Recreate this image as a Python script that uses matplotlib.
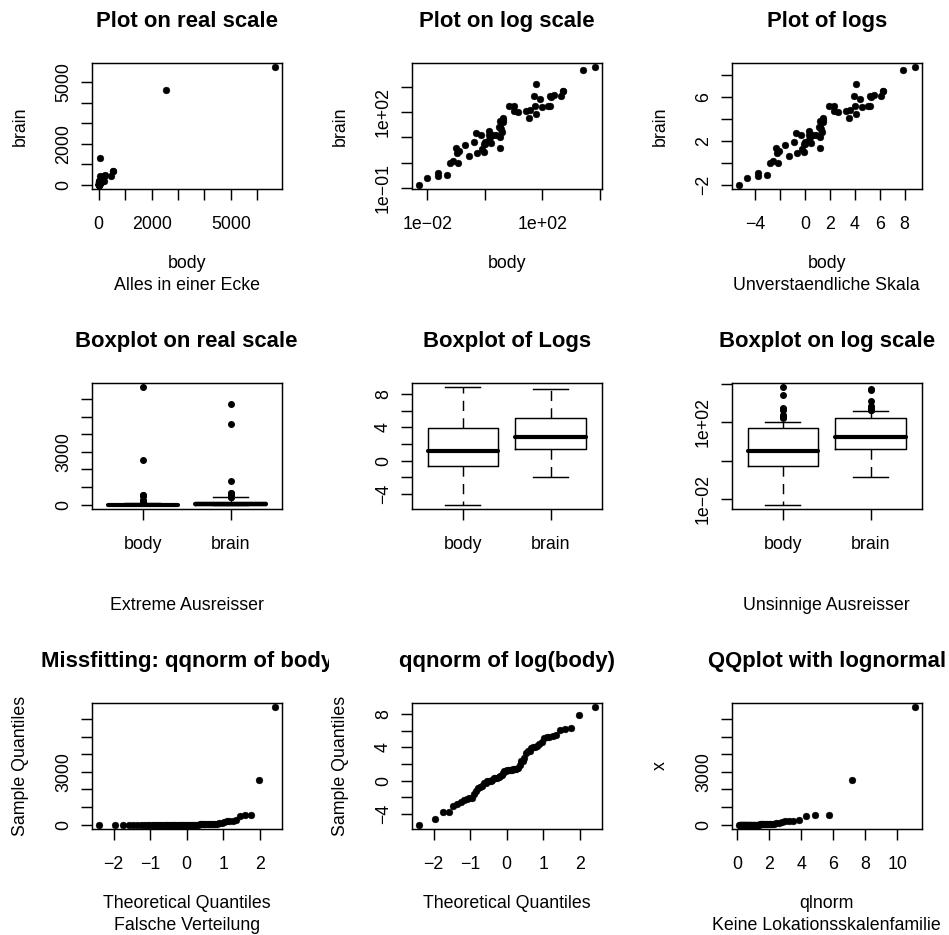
"""Mammals body/brain weights: nine ways to look at skewed data."""
from statistics import NormalDist

import matplotlib
matplotlib.use("Agg")
import matplotlib.pyplot as plt
import numpy as np
from matplotlib.transforms import Bbox

plt.rcParams["font.family"] = ["Liberation Sans", "DejaVu Sans"]

# MASS::mammals  (body in kg, brain in g)
body = [3.385, 0.480, 1.350, 465.000, 36.330, 27.660, 14.830, 1.040, 4.190,
        0.425, 0.101, 0.920, 1.000, 0.005, 0.060, 3.500, 2.000, 1.700,
        2547.000, 0.023, 187.100, 521.000, 0.785, 10.000, 3.300, 0.200,
        1.410, 529.000, 207.000, 85.000, 0.750, 62.000, 6654.000, 3.500,
        6.800, 35.000, 4.050, 0.120, 0.023, 0.010, 1.400, 250.000, 2.500,
        55.500, 100.000, 52.160, 10.550, 0.550, 60.000, 3.600, 4.288, 0.280,
        0.075, 0.122, 0.048, 192.000, 3.000, 160.000, 0.900, 1.620, 0.104,
        4.235]
brain = [44.50, 15.50, 8.10, 423.00, 119.50, 115.00, 98.20, 5.50, 58.00,
         6.40, 4.00, 5.70, 6.60, 0.14, 1.00, 10.80, 12.30, 6.30, 4603.00,
         0.30, 419.00, 655.00, 3.50, 115.00, 25.60, 5.00, 17.50, 680.00,
         406.00, 325.00, 12.30, 1320.00, 5712.00, 3.90, 179.00, 56.00, 17.00,
         1.00, 0.40, 0.25, 12.50, 490.00, 12.10, 175.00, 157.00, 440.00,
         179.50, 2.40, 81.00, 21.00, 39.20, 1.90, 1.20, 3.00, 0.33, 180.00,
         25.00, 169.00, 2.60, 11.40, 2.50, 50.40]
groups = ["body", "brain"]

titles = ["Plot on real scale", "Plot on log scale", "Plot of logs",
          "Boxplot on real scale", "Boxplot of Logs", "Boxplot on log scale",
          "Missfitting: qqnorm of body", "qqnorm of log(body)",
          "QQplot with lognormal"]
xlabels = ["body", "body", "body", "", "", "",
           "Theoretical Quantiles", "Theoretical Quantiles", "qlnorm"]
ylabels = ["brain", "brain", "brain", "", "", "",
           "Sample Quantiles", "Sample Quantiles", "x"]
subs = ["Alles in einer Ecke", "", "Unverstaendliche Skala",
        "Extreme Ausreisser", "", "Unsinnige Ausreisser",
        "Falsche Verteilung", "", "Keine Lokationsskalenfamilie"]

M = "\u2212"
thousands = [0, 1000, 2000, 3000, 4000, 5000, 6000]
lab_025 = ["0", "", "2000", "", "", "5000", ""]
lab_03 = ["0", "", "", "3000", "", "", ""]
evens_4_8 = [-4, -2, 0, 2, 4, 6, 8]
lab_4_8 = [M + "4", "", "0", "", "4", "", "8"]
dec_2_4 = [1e-2, 1e0, 1e2, 1e4]
lab_dec_2_4 = ["1e" + M + "02", "", "1e+02", ""]
dec_1_3 = [1e-1, 1e0, 1e1, 1e2, 1e3]
lab_dec_1_3 = ["1e" + M + "01", "", "", "1e+02", ""]
log_xt = [-4, -2, 0, 2, 4, 6, 8]
log_xl = [M + "4", "", "0", "2", "4", "6", "8"]
log_yt = [-2, 0, 2, 4, 6, 8]
log_yl = [M + "2", "", "2", "", "6", ""]
qq_t = [-2, -1, 0, 1, 2]
qq_l = [M + "2", M + "1", "0", "1", "2"]
ln_t = [0, 2, 4, 6, 8, 10]
ln_l = ["0", "2", "4", "6", "8", "10"]

W, H = 949, 935
BOX_L, BOX_T, STEP = 91.7, 62.7, 320
BOX_W, BOX_H = 190, 126.6
TXT, TTL = 12.8, 15.9
LW = 1.05


def fx(px):
    return px / W


def fy(py):
    return 1 - py / H


def padded(lo, hi, log=False):
    # R-style 4% axis extension
    if log:
        lo, hi = np.log10(lo), np.log10(hi)
    d = 0.04 * (hi - lo)
    lo, hi = lo - d, hi + d
    return (10 ** lo, 10 ** hi) if log else (lo, hi)


def fivenum_stats(v, label):
    v = np.sort(np.asarray(v, dtype=float))
    n = len(v)
    n4 = np.floor((n + 3) / 2) / 2
    d = np.array([1, n4, (n + 1) / 2, n + 1 - n4, n])
    q = 0.5 * (v[np.floor(d).astype(int) - 1] + v[np.ceil(d).astype(int) - 1])
    iqr = q[3] - q[1]
    inside = v[(v >= q[1] - 1.5 * iqr) & (v <= q[3] + 1.5 * iqr)]
    return dict(label=label, med=q[2], q1=q[1], q3=q[3],
                whislo=inside.min(), whishi=inside.max(),
                fliers=v[(v < inside.min()) | (v > inside.max())])


def draw_box(ax, data, log=False):
    stats = [fivenum_stats(d, g) for d, g in zip(data, groups)]
    ax.bxp(stats, positions=[1, 2], widths=0.8, capwidths=0.4,
           boxprops=dict(color="k", lw=LW),
           whiskerprops=dict(color="k", lw=LW, linestyle=(0, (7, 5))),
           capprops=dict(color="k", lw=LW),
           medianprops=dict(color="k", lw=3.0, solid_capstyle="round"),
           flierprops=dict(marker="o", mfc="k", mec="k", ms=4.0, ls="none"))
    # positions 1..2 padded by half a slot, then R's 4% extension
    ax.set_xlim(*padded(0.5, 2.5))
    allv = np.concatenate([np.asarray(d, float) for d in data])
    if log:
        ax.set_yscale("log")
    ax.set_ylim(*padded(allv.min(), allv.max(), log))
    ax.set_xticks([1, 2], groups)


def points(ax, x, y):
    ax.plot(x, y, "o", color="k", ms=4.9, mec="k", mew=0.3)


fig = plt.figure(figsize=(W / 100, H / 100), dpi=100)
axes = []
for i in range(3):
    for j in range(3):
        left, top = BOX_L + STEP * j, BOX_T + STEP * i
        ax = fig.add_axes([fx(left), fy(top + BOX_H), BOX_W / W, BOX_H / H])
        axes.append((ax, left, top, j))

body_a = np.array(body)
brain_a = np.array(brain)
n = len(body)
pp = (np.arange(1, n + 1) - 0.5) / n
qn = np.array([NormalDist().inv_cdf(p) for p in pp])
body_sorted = np.sort(body_a)

# row 1: scatter plots
ax = axes[0][0]
points(ax, body_a, brain_a)
ax.set_xlim(*padded(body_a.min(), body_a.max()))
ax.set_ylim(*padded(brain_a.min(), brain_a.max()))
ax.set_xticks(thousands, lab_025)
ax.set_yticks(thousands[:6], lab_025[:6])

ax = axes[1][0]
points(ax, body_a, brain_a)
ax.set_xscale("log")
ax.set_yscale("log")
ax.set_xlim(*padded(body_a.min(), body_a.max(), True))
ax.set_ylim(*padded(brain_a.min(), brain_a.max(), True))
ax.set_xticks(dec_2_4, lab_dec_2_4)
ax.set_yticks(dec_1_3, lab_dec_1_3)

ax = axes[2][0]
lb, lbr = np.log(body_a), np.log(brain_a)
points(ax, lb, lbr)
ax.set_xlim(*padded(lb.min(), lb.max()))
ax.set_ylim(*padded(lbr.min(), lbr.max()))
ax.set_xticks(log_xt, log_xl)
ax.set_yticks(log_yt, log_yl)

# row 2: boxplots
ax = axes[3][0]
draw_box(ax, [body, brain])
ax.set_yticks(thousands, lab_03)

ax = axes[4][0]
draw_box(ax, [np.log(body_a), np.log(brain_a)])
ax.set_yticks(evens_4_8, lab_4_8)

ax = axes[5][0]
draw_box(ax, [body, brain], log=True)
ax.set_yticks(dec_2_4, lab_dec_2_4)

# row 3: quantile plots
ax = axes[6][0]
points(ax, qn, body_sorted)
ax.set_xlim(*padded(qn.min(), qn.max()))
ax.set_ylim(*padded(body_sorted.min(), body_sorted.max()))
ax.set_xticks(qq_t, qq_l)
ax.set_yticks(thousands, lab_03)

ax = axes[7][0]
lbs = np.log(body_sorted)
points(ax, qn, lbs)
ax.set_xlim(*padded(qn.min(), qn.max()))
ax.set_ylim(*padded(lbs.min(), lbs.max()))
ax.set_xticks(qq_t, qq_l)
ax.set_yticks(evens_4_8, lab_4_8)

ax = axes[8][0]
qln = np.exp(qn)
points(ax, qln, body_sorted)
ax.set_xlim(*padded(qln.min(), qln.max()))
ax.set_ylim(*padded(body_sorted.min(), body_sorted.max()))
ax.set_xticks(ln_t, ln_l)
ax.set_yticks(thousands, lab_03)

for k, (ax, left, top, j) in enumerate(axes):
    ax.minorticks_off()
    for s in ax.spines.values():
        s.set_linewidth(LW)
    ax.tick_params(length=7.7, width=LW, labelsize=TXT, colors="k")
    ax.tick_params(axis="x", pad=11.5)
    ax.tick_params(axis="y", pad=6.4)
    for t in ax.get_yticklabels():
        t.set_rotation(90)
        t.set_va("center")
        t.set_ha("right")
    cx = left + BOX_W / 2
    bottom = top + BOX_H
    ttl = fig.text(fx(cx), fy(top - 36), titles[k], ha="center",
                   va="baseline", fontsize=TTL, fontweight="bold")
    # titles are clipped to their own figure cell
    ttl.set_clip_box(Bbox.from_extents(STEP * j, 0, STEP * j + 329, H))
    ttl.set_clip_on(True)
    if xlabels[k]:
        fig.text(fx(cx), fy(bottom + 79), xlabels[k], ha="center",
                 va="baseline", fontsize=TXT)
    if subs[k]:
        fig.text(fx(cx), fy(bottom + 100.7), subs[k], ha="center",
                 va="baseline", fontsize=TXT)
    if ylabels[k]:
        fig.text(fx(left - 66.7), fy(top + BOX_H / 2), ylabels[k],
                 rotation=90, rotation_mode="anchor", ha="center",
                 va="baseline", fontsize=TXT)

fig.savefig("out.png", dpi=100)
